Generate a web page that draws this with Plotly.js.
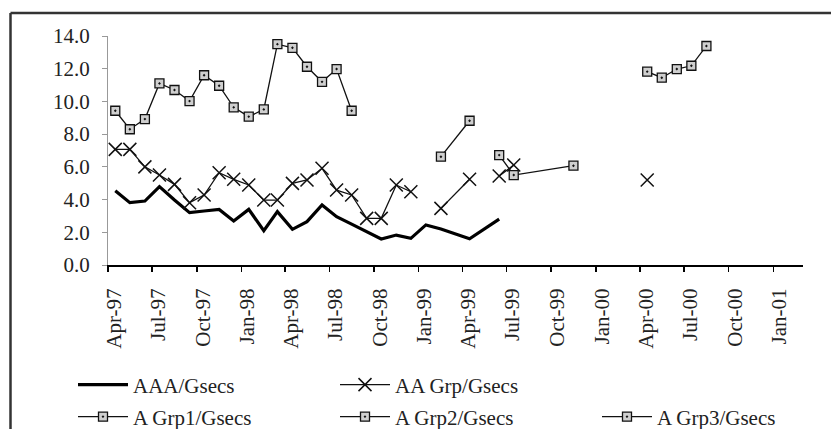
<!DOCTYPE html>
<html><head><meta charset="utf-8">
<script src="https://cdn.plot.ly/plotly-3.0.1.min.js"></script>
<style>html,body{margin:0;padding:0;background:#fff}</style>
</head><body><div id="chart" style="width:831px;height:429px"></div>
<script>
// ---- data (monthly observations, spread over Gsecs, %) ----
const aaaMonths = ['1997-04','1997-05','1997-06','1997-07','1997-08','1997-09','1997-10','1997-11','1997-12',
  '1998-01','1998-02','1998-03','1998-04','1998-05','1998-06','1998-07','1998-08','1998-09','1998-10','1998-11','1998-12',
  '1999-01','1999-02','1999-04','1999-05','1999-06'];
const aaaVals = [4.54,3.81,3.91,4.79,3.97,3.20,3.30,3.40,2.69,
  3.40,2.10,3.26,2.18,2.65,3.67,2.95,2.50,2.04,1.59,1.83,1.63,
  2.45,2.20,1.60,2.20,2.80];

const aaMonths = ['1997-04','1997-05','1997-06','1997-07','1997-08','1997-09','1997-10','1997-11','1997-12',
  '1998-01','1998-02','1998-03','1998-04','1998-05','1998-06','1998-07','1998-08','1998-09','1998-10','1998-11','1998-12',
  '1999-01','1999-02','1999-04','1999-05','1999-06','1999-07','1999-12','2000-04'];
const aaVals = [7.07,7.07,6.00,5.50,4.93,3.81,4.28,5.64,5.24,
  4.89,3.97,3.97,4.99,5.20,5.91,4.58,4.28,2.85,2.85,4.89,4.48,
  null,3.46,5.24,null,5.44,6.11,null,5.20];

const a1Months = ['1997-04','1997-05','1997-06','1997-07','1997-08','1997-09','1997-10','1997-11','1997-12',
  '1998-01','1998-02','1998-03','1998-04','1998-05','1998-06','1998-07','1998-08'];
const a1Vals = [9.43,8.30,8.92,11.10,10.70,10.02,11.60,10.96,9.64,
  9.07,9.51,13.50,13.28,12.12,11.20,11.98,9.43];

const a2Months = ['1999-02','1999-04','1999-05','1999-06','1999-07','1999-11'];
const a2Vals = [6.62,8.82,null,6.72,5.50,6.07];

const a3Months = ['2000-04','2000-05','2000-06','2000-07','2000-08'];
const a3Vals = [11.82,11.45,11.98,12.18,13.39];

const seriesNames = ['AAA/Gsecs','AA Grp/Gsecs','A Grp1/Gsecs','A Grp2/Gsecs','A Grp3/Gsecs'];

// ---- styles ----
const mid = m => m + '-16';
const sqMarker = {symbol:'square-dot', size:9, color:'#cfcfcf', line:{color:'#111', width:1.3}};
const thin = {color:'#111', width:1.3};

const traces = [
  {name:seriesNames[0], x:aaaMonths.map(mid), y:aaaVals, mode:'lines',
   line:{color:'#000', width:3.2}, legend:'legend'},
  {name:seriesNames[1], x:aaMonths.map(mid), y:aaVals, mode:'lines+markers',
   line:thin, marker:{symbol:'x-thin-open', size:13, color:'#111', line:{color:'#111', width:1.5}}, legend:'legend'},
  {name:seriesNames[2], x:a1Months.map(mid), y:a1Vals, mode:'lines+markers', line:thin, marker:sqMarker, legend:'legend2'},
  {name:seriesNames[3], x:a2Months.map(mid), y:a2Vals, mode:'lines+markers', line:thin, marker:sqMarker, legend:'legend2'},
  {name:seriesNames[4], x:a3Months.map(mid), y:a3Vals, mode:'lines+markers', line:thin, marker:sqMarker, legend:'legend2'}
];

const legendBase = {orientation:'h', xref:'paper', yref:'paper', xanchor:'left', yanchor:'middle',
  entrywidth:197, entrywidthmode:'pixels', itemwidth:50, bgcolor:'rgba(0,0,0,0)',
  font:{size:21, color:'#222'}, traceorder:'normal'};

const layout = {
  width:831, height:429,
  margin:{l:108, r:28, t:36, b:164, autoexpand:false},
  paper_bgcolor:'#fff', plot_bgcolor:'#fff',
  font:{family:'"Liberation Serif", "Times New Roman", serif', size:21, color:'#222'},
  showlegend:true,
  xaxis:{type:'date', range:['1997-04-01','2001-03-03'], tick0:'1997-04-01', dtick:'M3', tickformat:'%b-%y',
    tickangle:-90, ticks:'outside', ticklen:5, tickwidth:1.5, tickcolor:'#000',
    showline:true, linecolor:'#000', linewidth:2, showgrid:false, zeroline:false,
    ticklabelshift:6, ticklabelstandoff:8, automargin:false},
  yaxis:{range:[0,14], dtick:2, tick0:0, tickformat:'.1f', ticks:'outside', ticklen:5, tickcolor:'#999',
    showline:true, linecolor:'#999', linewidth:1, showgrid:false, zeroline:false, ticklabelstandoff:8, automargin:false},
  legend:Object.assign({}, legendBase, {x:(73-108)/695, y:(265-385)/229}),
  legend2:Object.assign({}, legendBase, {x:(73-108)/695, y:(265-417)/229}),
  shapes:[
    {type:'line', xref:'paper', yref:'paper', x0:(10.5-108)/695, x1:(831-108)/695, y0:(265-13)/229, y1:(265-13)/229,
     line:{color:'#333', width:2.5}},
    {type:'line', xref:'paper', yref:'paper', x0:(10.5-108)/695, x1:(10.5-108)/695, y0:(265-13)/229, y1:(265-432)/229,
     line:{color:'#333', width:2.5}}
  ]
};

Plotly.newPlot('chart', traces, layout, {displayModeBar:false, staticPlot:true});
</script>
</body></html>
